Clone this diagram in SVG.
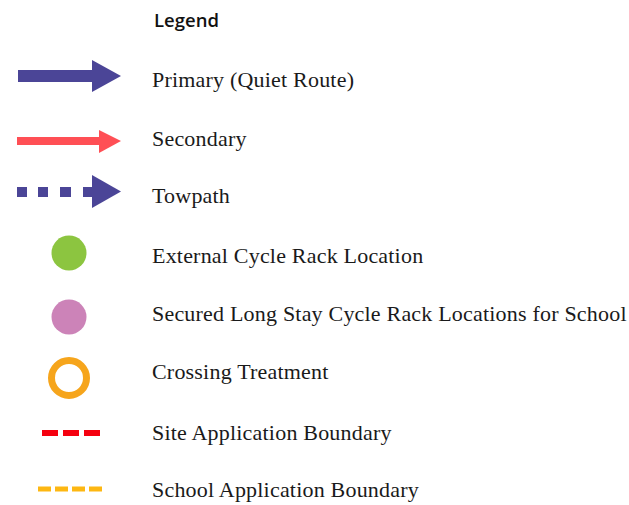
<svg xmlns="http://www.w3.org/2000/svg" width="629" height="505" viewBox="0 0 629 505">
<style>
.t{font-family:"Liberation Serif","DejaVu Serif",serif;font-size:22px;letter-spacing:0.2px;fill:#1a1a1a}
.h{font-family:"Open Sans","Liberation Sans",sans-serif;font-size:18.5px;font-weight:600;fill:#111}
.pu{fill:#4b4597}
.rd{fill:#ff4f55}
</style>
<rect width="629" height="505" fill="#fff"/>
<text class="h" x="154" y="27">Legend</text>
<g id="primary">
<rect class="pu" x="18" y="70" width="76" height="12"/>
<polygon class="pu" points="92,60 121,76 92,92"/>
<text class="t" x="152" y="87">Primary (Quiet Route)</text>
</g>
<g id="secondary">
<rect class="rd" x="17" y="137" width="84" height="8"/>
<polygon class="rd" points="99,130 121,141 99,153"/>
<text class="t" x="152" y="146">Secondary</text>
</g>
<g id="towpath">
<rect class="pu" x="17" y="187" width="10" height="10"/>
<rect class="pu" x="38" y="187" width="10" height="10"/>
<rect class="pu" x="60" y="187" width="11" height="10"/>
<rect class="pu" x="83" y="187" width="11" height="10"/>
<polygon class="pu" points="92,175 121,191.5 92,208"/>
<text class="t" x="152" y="203">Towpath</text>
</g>
<g id="external">
<circle cx="69" cy="253" r="17.5" fill="#8cc540"/>
<text class="t" x="152" y="263">External Cycle Rack Location</text>
</g>
<g id="secured">
<circle cx="69" cy="317" r="17.5" fill="#cc83b8"/>
<text class="t" x="152" y="321">Secured Long Stay Cycle Rack Locations for School</text>
</g>
<g id="crossing">
<circle cx="69" cy="378" r="17.5" fill="none" stroke="#f6a51c" stroke-width="7"/>
<text class="t" x="152" y="379">Crossing Treatment</text>
</g>
<g id="site">
<line x1="42" y1="433" x2="102" y2="433" stroke="#f5000f" stroke-width="6" stroke-dasharray="16,5"/>
<text class="t" x="152" y="440">Site Application Boundary</text>
</g>
<g id="school">
<line x1="38" y1="489" x2="102" y2="489" stroke="#fdb712" stroke-width="5" stroke-dasharray="13,4"/>
<text class="t" x="152" y="497">School Application Boundary</text>
</g>
</svg>
